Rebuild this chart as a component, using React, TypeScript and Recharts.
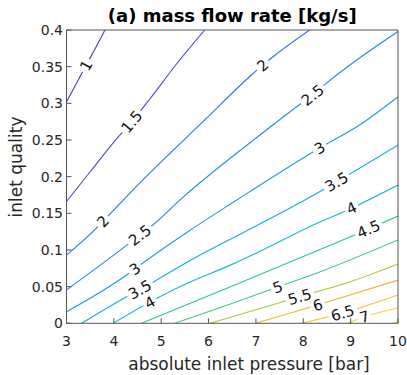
import { LineChart, Line, XAxis, YAxis } from 'recharts'

const LEVELS = [1, 1.5, 2, 2.5, 3, 3.5, 4, 4.5, 5, 5.5, 6, 6.5, 7, 7.5]
const COLORS = [
  '#4636c4', '#4549de', '#2c72f0', '#1e8cf0', '#149ee6', '#0cb0e0', '#0dbecc',
  '#22c8a6', '#3ccb86', '#a2c944', '#f2b62c', '#fbbe28', '#f9d024', '#f5e418',
]
const X_TICKS = [3, 4, 5, 6, 7, 8, 9, 10]
const Y_TICKS = [0, 0.05, 0.1, 0.15, 0.2, 0.25, 0.3, 0.35, 0.4]

// contour lines: [pressure bar, quality]
const lv1 = [[3.0, 0.302], [3.2, 0.326], [3.411, 0.3516], [3.601, 0.374], [3.812, 0.4]]
const lv1_5 = [[3.0, 0.166], [3.496, 0.2063], [4.092, 0.2541], [4.375, 0.2749], [4.76, 0.3059], [5.323, 0.3536], [5.92, 0.4]]
const lv2 = [[3.0, 0.093], [3.637, 0.13], [3.77, 0.139], [4.198, 0.1681], [4.76, 0.205], [5.92, 0.2773], [6.905, 0.3386], [7.143, 0.352], [7.354, 0.3632], [8.134, 0.4]]
const lv2_5 = [[3.0, 0.0454], [4.233, 0.1045], [4.55, 0.1203], [4.824, 0.134], [5.393, 0.168], [7.221, 0.2636], [7.776, 0.2913], [8.197, 0.3113], [8.486, 0.3273], [10, 0.398]]
const lv3 = [[3.0, 0.0158], [4.269, 0.0659], [4.444, 0.0742], [4.613, 0.0822], [5.562, 0.1249], [6.595, 0.1681], [8.17, 0.2322], [8.345, 0.239], [9.188, 0.2704], [10, 0.309]]
const lv3_5 = [[3.32, 0], [4.297, 0.0372], [4.55, 0.0461], [4.796, 0.0549], [5.562, 0.084], [7.08, 0.1354], [8.345, 0.1795], [8.703, 0.193], [10, 0.2431]]
const lv4 = [[3.987, 0], [4.585, 0.0226], [4.76, 0.0288], [4.971, 0.0363], [5.562, 0.055], [6.447, 0.079], [7.143, 0.1], [8.134, 0.1317], [9.019, 0.157], [10, 0.1886]]
const lv4_5 = [[4.585, 0], [6.553, 0.0522], [7.923, 0.089], [9.378, 0.1286], [10, 0.1463]]
const lv5 = [[5.288, 0], [6.342, 0.0236], [7.459, 0.0495], [8.345, 0.07], [10, 0.1136]]
const lv5_5 = [[6.026, 0], [7.923, 0.0363], [8.977, 0.0563], [10, 0.0809]]
const lv6 = [[6.995, 0], [8.303, 0.025], [10, 0.059]]
const lv6_5 = [[7.965, 0], [8.829, 0.014], [10, 0.0386]]
const lv7 = [[8.935, 0], [9.293, 0.009], [10, 0.0209]]
const lv7_5 = [[9.884, 0], [10, 0.0025]]

// which point of each contour carries the inline label
const LABEL_AT = [[2], [3], [2, 7], [2, 7], [2, 7], [2, 7], [2, 8], [3], [2], [1], [1], [1], [1], []]

const CONTOURS = [lv1, lv1_5, lv2, lv2_5, lv3, lv3_5, lv4, lv4_5, lv5, lv5_5, lv6, lv6_5, lv7, lv7_5]

const W = 407
const H = 375
// plot box: x 66.5..398, y 30..323.3 (axes take 1px each)
const M = { top: 29, right: 8, bottom: 50.7, left: 65.5 }
const PW = 398 - 66.5
const PH = 323.3 - 30
const AX = '#555555'
const TXT = '#262626'
const FONT = 'DejaVu Sans'

function BottomTick({ x, y, payload }: any) {
  return (
    <g>
      <line x1={x} y1={y} x2={x} y2={y - 5} stroke={AX} />
      <text x={x} y={y + 23} textAnchor="middle" fontSize={14} fill={TXT} fontFamily={FONT}>
        {payload.value}
      </text>
    </g>
  )
}

function TopTick({ x, y }: any) {
  return <line x1={x} y1={y} x2={x} y2={y + 5} stroke={AX} />
}

function LeftTick({ x, y, payload }: any) {
  return (
    <g>
      <line x1={x} y1={y} x2={x + 5} y2={y} stroke={AX} />
      <text x={x - 3.5} y={y} dy="0.36em" textAnchor="end" fontSize={14} fill={TXT} fontFamily={FONT}>
        {payload.value}
      </text>
    </g>
  )
}

function RightTick({ x, y }: any) {
  return <line x1={x} y1={y} x2={x - 5} y2={y} stroke={AX} />
}

function textWidth(s: string) {
  let w = 0
  for (const ch of s) w += ch === '.' ? 0.318 : 0.636
  return w * 15
}

function makeLabel(ci: number) {
  const pts = CONTOURS[ci]
  return (p: any) => {
    const i = p.index
    if (!LABEL_AT[ci].includes(i)) return <g key={`d-${ci}-${i}`} />
    let ang: number
    const pp = p.points
    if (pp && pp[i - 1] && pp[i + 1]) {
      ang = Math.atan2(pp[i + 1].y - pp[i - 1].y, pp[i + 1].x - pp[i - 1].x)
    } else {
      const dx = ((pts[i + 1][0] - pts[i - 1][0]) / 7) * PW
      const dy = -((pts[i + 1][1] - pts[i - 1][1]) / 0.4) * PH
      ang = Math.atan2(dy, dx)
    }
    const txt = String(LEVELS[ci])
    const tw = textWidth(txt) + 5
    return (
      <g key={`d-${ci}-${i}`} transform={`translate(${p.cx},${p.cy}) rotate(${(ang * 180) / Math.PI})`}>
        <rect x={-tw / 2} y={-3.5} width={tw} height={7} fill="#ffffff" />
        <text x={0} y={0} dy="0.36em" textAnchor="middle" fontSize={15} fill="#111" fontFamily={FONT}>
          {txt}
        </text>
      </g>
    )
  }
}

export default function App() {
  return (
    <div style={{ position: 'absolute', left: 0, top: 0, width: W, height: H, background: '#fff' }}>
      <LineChart width={W} height={H} margin={M} style={{ fontFamily: FONT }}>
        <XAxis
          dataKey="p"
          type="number"
          domain={[3, 10]}
          ticks={X_TICKS}
          interval={0}
          allowDataOverflow
          height={1}
          tickSize={0}
          tickMargin={0}
          axisLine={{ stroke: AX }}
          tickLine={false}
          tick={<BottomTick />}
        />
        <XAxis
          xAxisId="top"
          orientation="top"
          type="number"
          domain={[3, 10]}
          ticks={X_TICKS}
          interval={0}
          height={1}
          tickSize={0}
          tickMargin={0}
          axisLine={{ stroke: AX }}
          tickLine={false}
          tick={<TopTick />}
        />
        <YAxis
          type="number"
          domain={[0, 0.4]}
          ticks={Y_TICKS}
          interval={0}
          allowDataOverflow
          width={1}
          tickSize={0}
          tickMargin={0}
          axisLine={{ stroke: AX }}
          tickLine={false}
          tick={<LeftTick />}
        />
        <YAxis
          yAxisId="right"
          orientation="right"
          type="number"
          domain={[0, 0.4]}
          ticks={Y_TICKS}
          interval={0}
          width={1}
          tickSize={0}
          tickMargin={0}
          axisLine={{ stroke: AX }}
          tickLine={false}
          tick={<RightTick />}
        />
        {CONTOURS.map((c, ci) => (
          <Line
            key={LEVELS[ci]}
            data={c.map(([p, q]) => ({ p, q }))}
            dataKey="q"
            type="monotone"
            stroke={COLORS[ci]}
            strokeWidth={1.1}
            dot={makeLabel(ci)}
            activeDot={false}
            isAnimationActive={false}
          />
        ))}
      </LineChart>
      <div
        style={{
          position: 'absolute', left: 66.5, width: PW, top: 5, textAlign: 'center',
          fontFamily: FONT, fontWeight: 'bold', fontSize: 18, color: '#000', lineHeight: '22px',
        }}
      >
        (a) mass flow rate [kg/s]
      </div>
      <div
        style={{
          position: 'absolute', left: 0, width: 498, top: 353, textAlign: 'center',
          fontFamily: FONT, fontSize: 17, color: TXT, lineHeight: '22px', whiteSpace: 'nowrap',
        }}
      >
        absolute inlet pressure [bar]
      </div>
      <div style={{ position: 'absolute', left: 16, top: 167, width: 0, height: 0 }}>
        <div
          style={{
            position: 'absolute', left: -100, top: -11, width: 200, textAlign: 'center',
            transform: 'rotate(-90deg)', fontFamily: FONT, fontSize: 17, color: TXT,
            lineHeight: '22px', whiteSpace: 'nowrap',
          }}
        >
          inlet quality
        </div>
      </div>
    </div>
  )
}
